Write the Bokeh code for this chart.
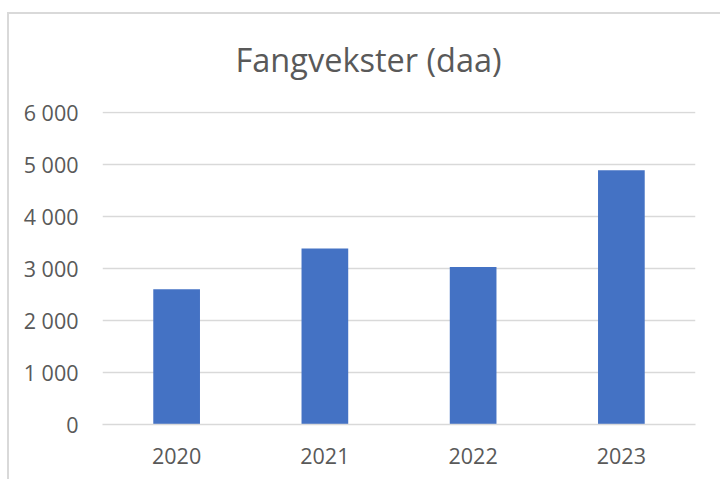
from bokeh.plotting import figure
from bokeh.models import FactorRange, Range1d, FixedTicker, CustomJSTickFormatter, ColumnDataSource
from bokeh.embed import file_html
from bokeh.resources import INLINE

years = ["2020", "2021", "2022", "2023"]
values = [2600, 3385, 3030, 4890]
y_ticks = [0, 1000, 2000, 3000, 4000, 5000, 6000]
title_text = "Fangvekster (daa)"

FONT = "Open Sans"
TEXT = "#595959"
GRID = "#d9d9d9"
BAR = "#4472C4"

src = ColumnDataSource(dict(year=years, val=values))

p = figure(
    width=713, height=479,
    x_range=FactorRange(*years, range_padding=0),
    y_range=Range1d(0, 6020),
    output_backend="svg", toolbar_location=None,
    min_border_left=95, min_border_right=25,
    min_border_top=111, min_border_bottom=55,
)
p.margin = (0, 0, 0, 7)
p.styles = {
    "background": (
        "linear-gradient(#d9d9d9, #d9d9d9) 0 12px / 100% 2px no-repeat, "
        "linear-gradient(#d9d9d9, #d9d9d9) 0 12px / 2px 100% no-repeat, white"
    )
}

p.vbar(x="year", top="val", width=0.315, source=src, fill_color=BAR, line_color=None)

p.title.text = title_text
p.title.text_font = FONT
p.title.text_font_size = "32.5px"
p.title.text_font_style = "normal"
p.title.text_color = TEXT
p.title.align = "left"
p.title.offset = 133
p.title.standoff = 59

p.outline_line_color = None
p.background_fill_color = "white"
p.border_fill_alpha = 0

p.xgrid.grid_line_color = None
p.ygrid.grid_line_color = GRID
p.ygrid.grid_line_width = 1.3
p.ygrid.ticker = FixedTicker(ticks=y_ticks)

p.yaxis.ticker = FixedTicker(ticks=y_ticks)
p.yaxis.formatter = CustomJSTickFormatter(
    code="return tick.toString().replace(/\\B(?=(\\d{3})+(?!\\d))/g, ' ');")
p.yaxis.axis_line_color = None
p.yaxis.major_tick_line_color = None
p.yaxis.minor_tick_line_color = None
p.yaxis.major_tick_in = 0
p.yaxis.major_tick_out = 0
p.yaxis.major_label_standoff = 24
p.yaxis.major_label_text_font = FONT
p.yaxis.major_label_text_font_size = "21.5px"
p.yaxis.major_label_text_color = TEXT

p.xaxis.axis_line_color = GRID
p.xaxis.axis_line_width = 1.3
p.xaxis.major_tick_line_color = None
p.xaxis.minor_tick_line_color = None
p.xaxis.major_tick_in = 0
p.xaxis.major_tick_out = 0
p.xaxis.major_label_standoff = 23
p.xaxis.major_label_text_font = FONT
p.xaxis.major_label_text_font_size = "21.5px"
p.xaxis.major_label_text_color = TEXT

open("out.html", "w").write(file_html(p, INLINE))
